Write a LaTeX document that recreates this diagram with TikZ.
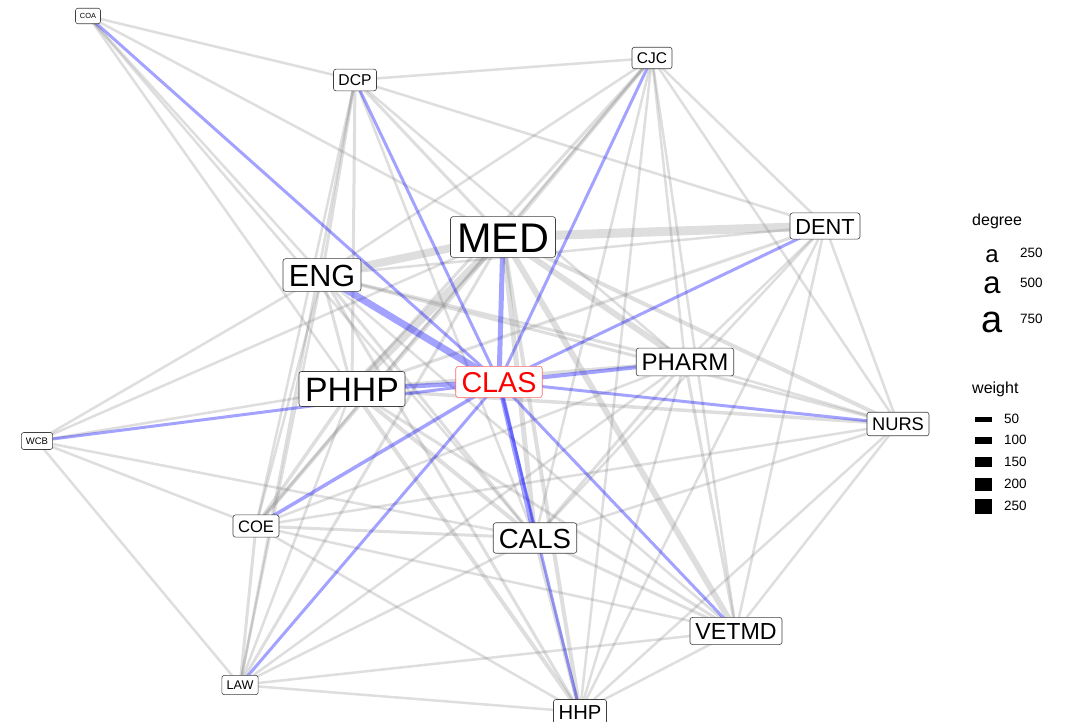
\documentclass[tikz,border=0pt]{standalone}
\usepackage{fontspec}
\setmainfont{Liberation Sans}
\pgfdeclarelayer{bg}
\pgfsetlayers{bg,main}
\begin{document}
\begin{tikzpicture}[x=1bp,y=-1bp,
  lab/.style={draw=black!75, fill=white, rounded corners=2.5bp, line width=0.6bp,
    inner xsep={4bp+0.06*#1bp}, inner ysep=5bp,
    font=\fontsize{#1bp}{#1bp}\selectfont, text height={0.74*#1bp}, text depth=0bp},
  hub/.style={lab=#1, draw=red!60, text=red},
  ge/.style={draw=black!50, draw opacity=0.26, line width=#1bp},
  be/.style={draw=blue, draw opacity=0.36, line width=#1bp},
  legt/.style={anchor=west, inner sep=0pt, font=\fontsize{16bp}{16bp}\selectfont},
  legn/.style={anchor=west, inner sep=0pt, font=\fontsize{13.5bp}{13.5bp}\selectfont},
  lega/.style={inner sep=0pt, font=\fontsize{#1bp}{#1bp}\selectfont},
  legbar/.style={fill=black, draw=none, minimum width=17bp, minimum height=#1bp, inner sep=0pt}
]
\useasboundingbox (0,0) rectangle (1068,722);
\begin{pgfonlayer}{bg}
\fill[white] (0,0) rectangle (1068,722);
\end{pgfonlayer}

% nodes
\node[lab=7.4]  (COA)   at (88,16)   {COA};
\node[lab=15.7] (DCP)   at (355,80)  {DCP};
\node[lab=15.5] (CJC)   at (652,58)  {CJC};
\node[lab=21.8] (DENT)  at (825,226) {DENT};
\node[lab=41.4] (MED)   at (503,237) {MED};
\node[lab=30.6] (ENG)   at (322,275) {ENG};
\node[lab=33.8] (PHHP)  at (352,389) {PHHP};
\node[hub=28.7] (CLAS)  at (499,382) {CLAS};
\node[lab=24]   (PHARM) at (685,362) {PHARM};
\node[lab=18.3] (NURS)  at (898,424) {NURS};
\node[lab=9.5]  (WCB)   at (37,441)  {WCB};
\node[lab=16.6] (COE)   at (256,526) {COE};
\node[lab=27.6] (CALS)  at (535,538) {CALS};
\node[lab=23.2] (VETMD) at (736,631) {VETMD};
\node[lab=12.6] (LAW)   at (240,685) {LAW};
\node[lab=20.2] (HHP)   at (580,712) {HHP};

\begin{pgfonlayer}{bg}
% grey edges
\foreach \a/\b/\w in {
  MED/DENT/9, MED/ENG/8, MED/PHHP/8, MED/PHARM/6, MED/VETMD/6, MED/CALS/5,
  MED/HHP/4, MED/NURS/4, MED/COE/4, MED/LAW/3, MED/DCP/3, MED/CJC/3.5,
  MED/COA/2.5, MED/WCB/2.5,
  ENG/PHHP/3, ENG/COA/2.5, ENG/DCP/3, ENG/CJC/2.5, ENG/DENT/2.5, ENG/PHARM/3,
  ENG/NURS/3, ENG/CALS/3, ENG/COE/2.5, ENG/LAW/2.5, ENG/VETMD/2.5, ENG/HHP/3,
  ENG/WCB/2.5,
  PHHP/COA/2.5, PHHP/DCP/3, PHHP/CJC/3, PHHP/DENT/3, PHHP/PHARM/3.5,
  PHHP/NURS/3.5, PHHP/CALS/4, PHHP/VETMD/3, PHHP/HHP/4, PHHP/COE/3.5,
  PHHP/LAW/2.5, PHHP/WCB/2.5,
  DCP/COA/2.5, DCP/CJC/2.5, DCP/DENT/2.5, DCP/COE/2.5, DCP/LAW/2.5,
  DCP/CALS/2.5, DCP/PHARM/2.5,
  CJC/DENT/2.5, CJC/NURS/2.5, CJC/PHARM/2.5, CJC/VETMD/2.5, CJC/CALS/2.5,
  CJC/HHP/2.5, CJC/COE/2.5,
  DENT/PHARM/2.5, DENT/NURS/2.5, DENT/VETMD/2.5, DENT/HHP/2.5, DENT/CALS/2.5,
  PHARM/NURS/2.5, PHARM/VETMD/3, PHARM/CALS/3, PHARM/HHP/2.5, PHARM/COE/2.5,
  PHARM/LAW/2.5,
  NURS/VETMD/2.5, NURS/HHP/2.5, NURS/CALS/2.5, NURS/COE/2.5,
  CALS/COE/3, CALS/WCB/2.5, CALS/LAW/2.5, CALS/HHP/4, CALS/VETMD/3, CALS/COA/2.5,
  COE/LAW/3, COE/VETMD/2.5, COE/HHP/2.5, COE/WCB/2.5,
  LAW/WCB/2.5, LAW/HHP/2.5, LAW/VETMD/2.5,
  VETMD/HHP/2.5}
  \draw[ge=\w] (\a.center) -- (\b.center);
% CLAS edges
\foreach \b/\w in {
  ENG/7, MED/5, PHHP/4.5, CALS/5, PHARM/4, HHP/3, VETMD/3, NURS/3, DENT/3,
  CJC/3, DCP/3, COA/3, WCB/3, COE/3.5, LAW/3}
  \draw[be=\w] (CLAS.center) -- (\b.center);
\end{pgfonlayer}

% legend: degree
\node[legt] (degt) at (972,221) {degree};
\node[lega=24] (a1) at (992,256) {a};
\node[lega=31] (a2) at (992,285) {a};
\node[lega=38] (a3) at (992,322) {a};
\node[legn] (n1) at (1020,253) {250};
\node[legn] (n2) at (1020,283) {500};
\node[legn] (n3) at (1020,319) {750};

% legend: weight
\node[legt] (wt) at (972,389) {weight};
\node[legbar=5]  (b1) at (983.5,419) {};
\node[legbar=7]  (b2) at (983.5,440) {};
\node[legbar=10] (b3) at (983.5,462) {};
\node[legbar=13] (b4) at (983.5,484) {};
\node[legbar=15] (b5) at (983.5,506) {};
\node[legn] (w1) at (1004,419) {50};
\node[legn] (w2) at (1004,440) {100};
\node[legn] (w3) at (1004,462) {150};
\node[legn] (w4) at (1004,484) {200};
\node[legn] (w5) at (1004,506) {250};
\end{tikzpicture}
\end{document}
